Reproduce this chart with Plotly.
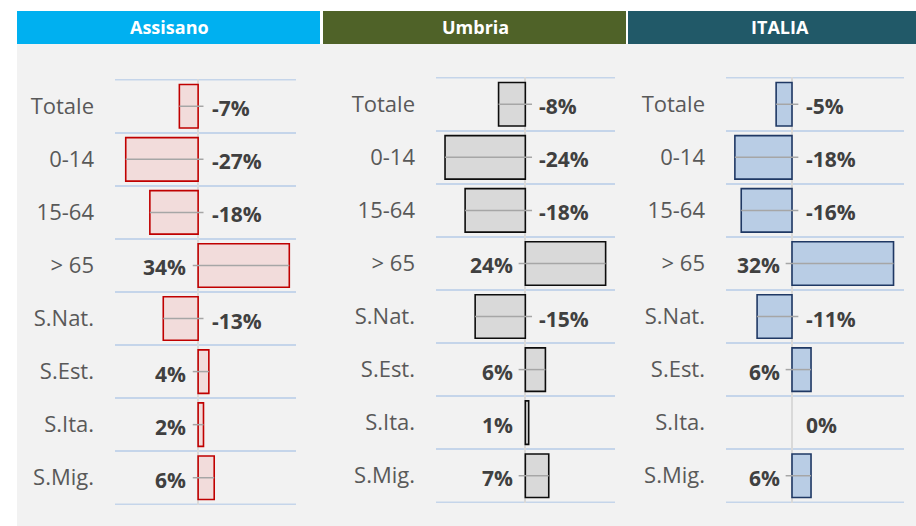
import plotly.graph_objects as go

# data
categories = ["Totale", "0-14", "15-64", "> 65", "S.Nat.", "S.Est.", "S.Ita.", "S.Mig."]
assisano = [-0.07, -0.27, -0.18, 0.34, -0.13, 0.04, 0.02, 0.06]
umbria = [-0.08, -0.24, -0.18, 0.24, -0.15, 0.06, 0.01, 0.07]
italia = [-0.05, -0.18, -0.16, 0.32, -0.11, 0.06, 0.00, 0.06]
titles = ["Assisano", "Umbria", "ITALIA"]

W, H = 916, 526

def px_x(v):
    return v / W

def px_y(v):
    return 1 - v / H

# panel styling: header box, title centre, plot box, x range, bar colours
PANELS = [
    dict(name=titles[0], values=assisano, head=(17, 320), title_x=169,
         plot=(115, 296), rows=(79, 505), xr=[-0.31, 0.365],
         fill='#F2DCDB', line='#C00000'),
    dict(name=titles[1], values=umbria, head=(323, 626), title_x=475,
         plot=(436, 615), rows=(77, 503), xr=[-0.267, 0.268],
         fill='#D9D9D9', line='#0D0D0D'),
    dict(name=titles[2], values=italia, head=(628, 916), title_x=780,
         plot=(726, 904), rows=(77, 503), xr=[-0.208, 0.353],
         fill='#B9CDE5', line='#1F3864'),
]
HEAD_COLORS = ['#00B0F0', '#4F6228', '#215968']

TEXT_DARK = '#404040'
TEXT_CAT = '#595959'
GRID = '#C5D5EA'
LEADER = '#A6A6A6'
FONT = 'Open Sans, sans-serif'

fig = go.Figure()
layout = {}
shapes = []
annotations = []

# gray panel background
shapes.append(dict(type='rect', xref='paper', yref='paper', layer='below',
                   x0=px_x(17), x1=1, y0=0, y1=px_y(44),
                   fillcolor='#F2F2F2', line_width=0))

for i, p in enumerate(PANELS):
    n = '' if i == 0 else str(i + 1)
    xa, ya = 'x' + n, 'y' + n

    fig.add_trace(go.Bar(
        x=p['values'], y=categories, orientation='h',
        xaxis=xa, yaxis=ya, showlegend=False,
        marker=dict(color=p['fill'],
                    line=dict(color=p['line'],
                              width=[1.6 if v != 0 else 0 for v in p['values']])),
        hoverinfo='skip'))

    # leader lines from bar end towards the label near zero
    for cat, v in zip(categories, p['values']):
        if abs(v) < 0.02:
            continue
        end = 0.02 if v < 0 else -0.02
        fig.add_trace(go.Scatter(
            x=[v, end], y=[cat, cat], mode='lines', xaxis=xa, yaxis=ya,
            line=dict(color=LEADER, width=1.5), showlegend=False,
            hoverinfo='skip'))

    # value labels on the opposite side of the zero line
    for cat, v in zip(categories, p['values']):
        neg = v <= 0
        annotations.append(dict(
            xref=xa, yref=ya, x=0, y=cat, text=f"{round(v * 100):.0f}%",
            showarrow=False, xanchor='left' if neg else 'right',
            xshift=12 if neg else -10, yshift=-2,
            font=dict(family=FONT, size=21, color=TEXT_DARK, weight='bold')))

    layout['xaxis' + n] = dict(
        domain=[px_x(p['plot'][0]), px_x(p['plot'][1])], anchor=ya,
        range=p['xr'], showgrid=False, showticklabels=False,
        zeroline=True, zerolinecolor='#D9D9D9', zerolinewidth=2,
        showline=False, fixedrange=True)
    layout['yaxis' + n] = dict(
        domain=[px_y(p['rows'][1]), px_y(p['rows'][0])], anchor=xa,
        type='category', categoryorder='array', categoryarray=categories,
        autorange='reversed', tickson='boundaries',
        showgrid=True, gridcolor=GRID, gridwidth=1.5,
        ticks='', ticklabelstandoff=20, zeroline=False, showline=False,
        tickfont=dict(family=FONT, size=22, color=TEXT_CAT), fixedrange=True)

    # outer row borders (top and bottom of the category band)
    for edge in (-0.5, len(categories) - 0.5):
        shapes.append(dict(type='line', xref=xa + ' domain', yref=ya,
                           x0=0, x1=1, y0=edge, y1=edge,
                           line=dict(color=GRID, width=1.5), layer='below'))

    # header band
    shapes.append(dict(type='rect', xref='paper', yref='paper',
                       x0=px_x(p['head'][0]), x1=px_x(p['head'][1]),
                       y0=px_y(44), y1=px_y(11),
                       fillcolor=HEAD_COLORS[i], line_width=0))
    annotations.append(dict(
        xref='paper', yref='paper', x=px_x(p['title_x']), y=px_y(27.5),
        text=p['name'], showarrow=False, xanchor='center', yanchor='middle',
        font=dict(family=FONT, size=18, color='white', weight='bold')))

fig.update_layout(
    width=W, height=H, margin=dict(l=0, r=0, t=0, b=0),
    paper_bgcolor='white', plot_bgcolor='rgba(0,0,0,0)',
    bargap=0.18, shapes=shapes, annotations=annotations,
    **layout)

fig.write_html("out.html", config={'displayModeBar': False},
               post_script="document.body.style.margin='0';")
